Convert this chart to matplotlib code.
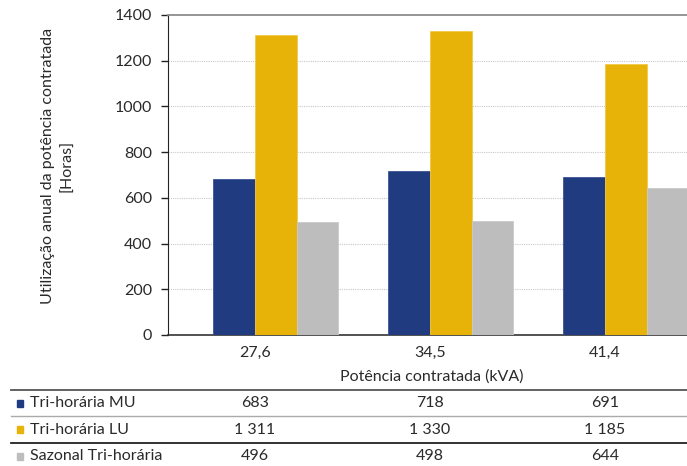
import matplotlib
matplotlib.use("Agg")
import matplotlib.pyplot as plt
from matplotlib.lines import Line2D
import numpy as np

plt.rcParams['font.family'] = ['Lato', 'DejaVu Sans']

categories = ["27,6", "34,5", "41,4"]
series_names = ["Tri-horária MU", "Tri-horária LU", "Sazonal Tri-horária"]
mu_values = [683, 718, 691]
lu_values = [1311, 1330, 1185]
sazonal_values = [496, 498, 644]
series_values = [mu_values, lu_values, sazonal_values]
colors = ["#203B7F", "#E8B308", "#BDBDBD"]
edge_colors = ["#3A5596", "#F2C94A", "#C9C9C9"]
y_ticks = [0, 200, 400, 600, 800, 1000, 1200, 1400]


def fmt(v):
    return f"{v:,}".replace(",", " ")


W, H = 687, 466
fig = plt.figure(figsize=(W / 100, H / 100), dpi=100)

ax_left, ax_right, ax_top, ax_bottom = 167.5, 687, 15, 335
ax = fig.add_axes([ax_left / W, 1 - ax_bottom / H,
                   (ax_right - ax_left) / W, (ax_bottom - ax_top) / H])

x = np.arange(len(categories))
bw = 0.238
offsets = [-bw, 0, bw]
for vals, off, c, ec in zip(series_values, offsets, colors, edge_colors):
    ax.bar(x + off, vals, width=bw, align="edge", color=c,
           edgecolor=ec, linewidth=0.6, zorder=3)

ax.set_xlim(-0.5, -0.5 + (ax_right - ax_left) / 175)
ax.set_ylim(0, 1400)
ax.set_yticks(y_ticks)
ax.set_yticklabels([str(t) for t in y_ticks], fontsize=11.5, color="#2A2A2A")
ax.set_xticks(x)
ax.set_xticklabels(categories, fontsize=11.5, color="#2A2A2A")
ax.tick_params(axis="x", length=0, pad=8)
ax.tick_params(axis="y", length=5, width=1, direction="out", pad=6, color="#222222")

for t in y_ticks[1:-1]:
    ax.axhline(t, color="#C8C8C8", linestyle=(0, (1, 1)), linewidth=0.8, zorder=1)

ax.spines["right"].set_visible(False)
ax.spines["top"].set_color("#8C8C8C")
ax.spines["top"].set_linewidth(1.3)
ax.spines["left"].set_color("#222222")
ax.spines["bottom"].set_color("#333333")
ax.spines["bottom"].set_linewidth(1.2)

# y-axis title
fig.text(58 / W, 1 - 166 / H,
         "Utilização anual da potência contratada\n[Horas]",
         rotation=90, ha="center", va="center", fontsize=11.5,
         color="#2A2A2A", linespacing=1.5)

# x-axis title
fig.text(432 / W, 1 - 377 / H, "Potência contratada (kVA)",
         ha="center", va="center", fontsize=11.5, color="#2A2A2A")

# data table beneath the chart
line_specs = [(390, "#555555", 1.3), (416, "#AAAAAA", 1.0), (443, "#222222", 1.3)]
for yy, c, lw in line_specs:
    fig.add_artist(Line2D([11 / W, 1.0], [1 - yy / H, 1 - yy / H],
                          transform=fig.transFigure, color=c, linewidth=lw))

row_y = [403, 429.5, 456.5]
col_x = [ax_left + 175 * (i + 0.5) for i in range(len(categories))]
for name, vals, c, ry in zip(series_names, series_values, colors, row_y):
    fig.add_artist(plt.Rectangle((16.5 / W, 1 - (ry + 3.5) / H), 6 / W, 7 / H,
                                 transform=fig.transFigure, color=c))
    fig.text(30 / W, 1 - ry / H, name, ha="left", va="center",
             fontsize=11.5, color="#2A2A2A")
    for cx, v in zip(col_x, vals):
        fig.text(cx / W, 1 - ry / H, fmt(v), ha="center", va="center",
                 fontsize=11.5, color="#2A2A2A")

fig.savefig("out.png", dpi=100)
